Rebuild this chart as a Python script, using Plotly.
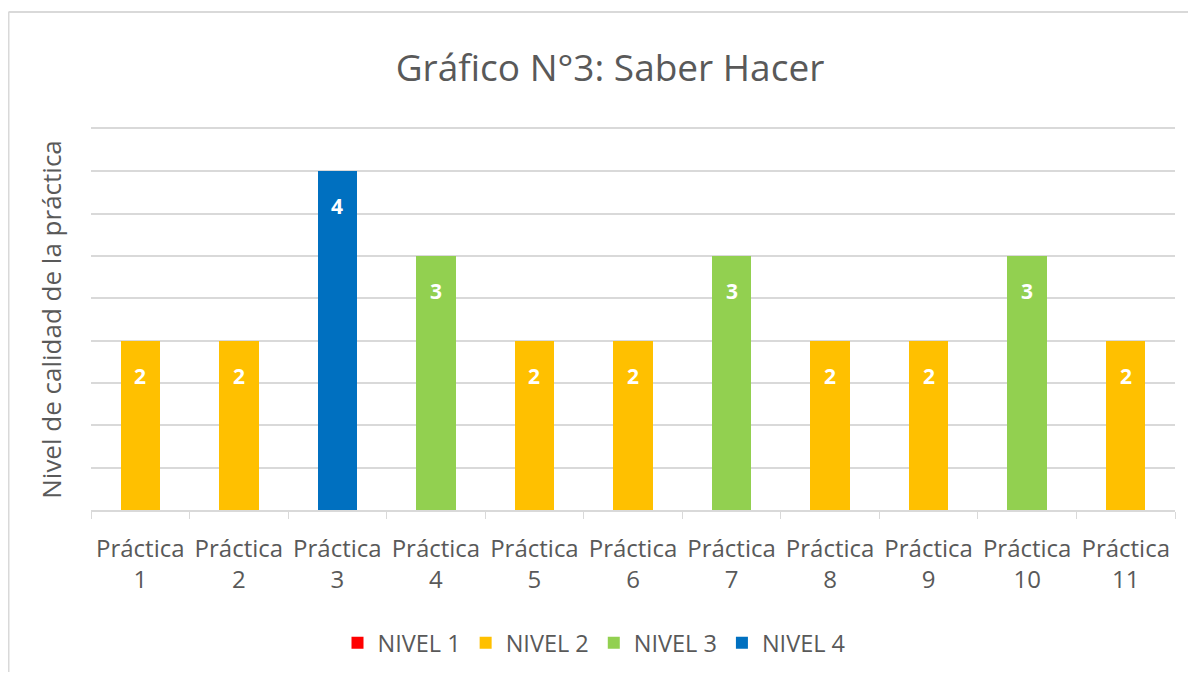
import plotly.graph_objects as go

categories = [f"Práctica<br>{i}" for i in range(1, 12)]
nivel1 = [None] * 11
nivel2 = [2, 2, None, None, 2, 2, None, 2, 2, None, 2]
nivel3 = [None, None, None, 3, None, None, 3, None, None, 3, None]
nivel4 = [None, None, 4, None, None, None, None, None, None, None, None]

series = [
    ("NIVEL 1", nivel1, "#FF0000"),
    ("NIVEL 2", nivel2, "#FFC000"),
    ("NIVEL 3", nivel3, "#92D050"),
    ("NIVEL 4", nivel4, "#0070C0"),
]

FONT = "Open Sans"
GRAY = "#595959"
W, H = 1180, 664
L, R, T, B = 83, 13, 121, 162
PW, PH = W - L - R, H - T - B

fig = go.Figure()
annotations = []
for name, vals, color in series:
    fig.add_trace(go.Bar(
        x=categories, y=vals, name=name, marker_color=color,
        marker_line_width=0, width=0.4,
    ))
    for c, v in zip(categories, vals):
        if v is not None:
            annotations.append(dict(
                x=c, y=v, xref="x", yref="y", text=f"<b>{v}</b>",
                showarrow=False, yshift=-35, yanchor="middle",
                font=dict(color="white", size=21, family=FONT),
            ))

bx = (0.5 - L) / PW
by = (PH - (4 - T)) / PH
fig.update_layout(
    width=W, height=H,
    margin=dict(l=L, r=R, t=T, b=B, autoexpand=False),
    paper_bgcolor="white", plot_bgcolor="white",
    barmode="stack",
    title=dict(text="Gráfico N°3: Saber Hacer", x=(610 - 8) / W, xanchor="center",
               y=1 - 60 / H, yanchor="middle",
               font=dict(size=37, color=GRAY, family=FONT)),
    font=dict(family=FONT, color=GRAY),
    legend=dict(orientation="h", x=(594 - 8 - L) / PW, xanchor="center",
                y=(PH - (635 - T)) / PH, yanchor="middle",
                font=dict(size=23.5, color=GRAY, family=FONT),
                itemsizing="constant", traceorder="normal"),
    annotations=annotations,
    shapes=[
        dict(type="line", xref="paper", yref="paper", x0=bx, x1=1.5, y0=by, y1=by,
             line=dict(color="#D9D9D9", width=2), layer="below"),
        dict(type="line", xref="paper", yref="paper", x0=bx, x1=bx, y0=-1.5, y1=by,
             line=dict(color="#D9D9D9", width=2), layer="below"),
    ],
)
fig.update_xaxes(
    automargin=False,
    showgrid=False, showline=True, mirror=True, linecolor="#D9D9D9", linewidth=1.5,
    ticks="outside", tickson="boundaries", ticklen=7, tickcolor="#D9D9D9",
    tickangle=0, ticklabelstandoff=16,
    tickfont=dict(size=24, color=GRAY, family=FONT),
)
fig.update_yaxes(
    automargin=False,
    range=[0, 4.5], dtick=0.5, showticklabels=False, showgrid=True,
    gridcolor="#D9D9D9", gridwidth=1.5, zeroline=False,
    title=dict(text="Nivel de calidad de la práctica", standoff=20,
               font=dict(size=26, color=GRAY, family=FONT)),
)

fig.write_html("out.html")
